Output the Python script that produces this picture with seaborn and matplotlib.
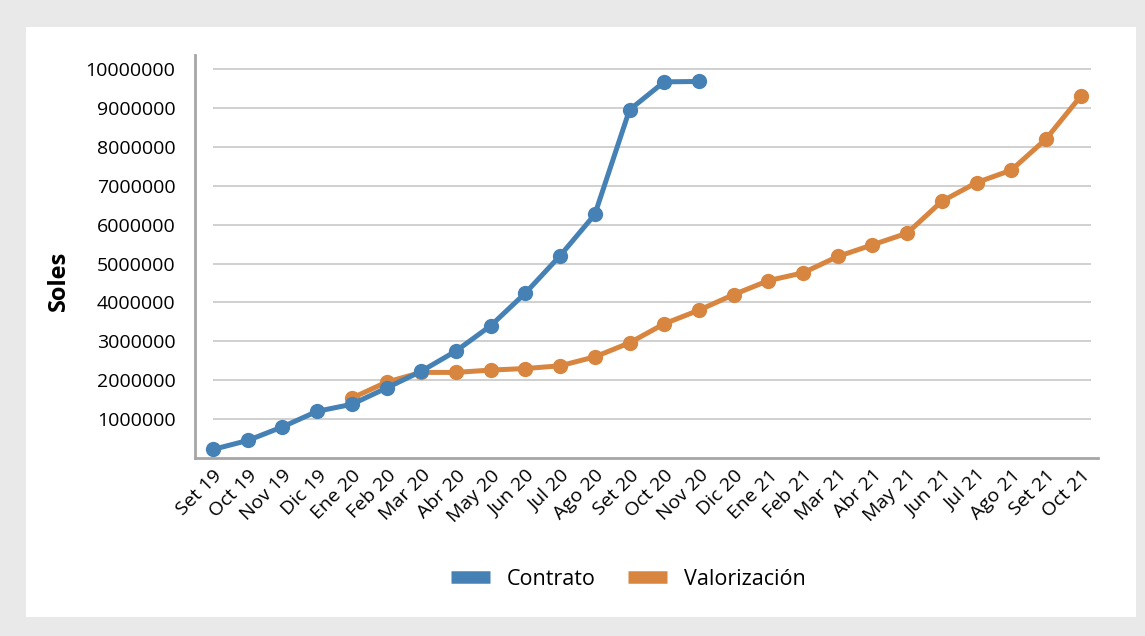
import matplotlib
matplotlib.use("Agg")
import matplotlib.pyplot as plt
from matplotlib.patches import Rectangle
from matplotlib.lines import Line2D
import seaborn as sns
import pandas as pd

# ------------------------------
# Data
# ------------------------------
months = ["Set 19", "Oct 19", "Nov 19", "Dic 19", "Ene 20", "Feb 20", "Mar 20",
          "Abr 20", "May 20", "Jun 20", "Jul 20", "Ago 20", "Set 20", "Oct 20",
          "Nov 20", "Dic 20", "Ene 21", "Feb 21", "Mar 21", "Abr 21", "May 21",
          "Jun 21", "Jul 21", "Ago 21", "Set 21", "Oct 21"]

contrato = [220000, 450000, 800000, 1200000, 1380000, 1800000, 2230000,
            2750000, 3400000, 4240000, 5200000, 6260000, 8950000, 9670000,
            9680000]

valorizacion = [1540000, 1950000, 2200000, 2200000, 2260000, 2300000,
                2370000, 2600000, 2960000, 3450000, 3800000, 4200000,
                4560000, 4760000, 5180000, 5480000, 5780000, 6600000,
                7080000, 7400000, 8200000, 9300000]
valorizacion_start = 4  # starts at "Ene 20"

y_ticks = [1000000, 2000000, 3000000, 4000000, 5000000,
           6000000, 7000000, 8000000, 9000000, 10000000]

blue = "#4581b5"
orange = "#d8853f"

df_c = pd.DataFrame({"x": range(len(contrato)), "y": contrato})
df_v = pd.DataFrame({"x": range(valorizacion_start, valorizacion_start + len(valorizacion)),
                     "y": valorizacion})

# ------------------------------
# Figure
# ------------------------------
sns.set_theme(style="white")
plt.rcParams["font.family"] = ["Open Sans", "DejaVu Sans"]

fig = plt.figure(figsize=(11.45, 6.36), dpi=100, facecolor="#e9e9e9")
fig.patches.append(Rectangle((0.0227, 0.0299), 0.9694, 0.9277, transform=fig.transFigure,
                             facecolor="white", edgecolor="none", zorder=-10))

ax = fig.add_axes([0.1703, 0.2799, 0.7887, 0.6336])
ax.set_facecolor("none")

ax.hlines(y_ticks, 0, 25.3, color="#c8c8c8", linewidth=1.2, zorder=1)

sns.lineplot(data=df_c, x="x", y="y", ax=ax, color=blue, linewidth=3.6,
             marker="o", markersize=11, markeredgewidth=0, zorder=3)
sns.lineplot(data=df_v, x="x", y="y", ax=ax, color=orange, linewidth=3.6,
             marker="o", markersize=11, markeredgewidth=0, zorder=2)

ax.set_xlim(-0.52, 25.5)
ax.set_ylim(0, 10360000)
ax.set_xticks(range(len(months)))
ax.set_xticklabels(months, rotation=45, ha="right", rotation_mode="anchor", fontsize=14)
ax.set_yticks(y_ticks)
ax.set_yticklabels([str(v) for v in y_ticks], fontsize=14)
ax.tick_params(axis="y", length=0, pad=14, colors="black")
ax.tick_params(axis="x", length=0, pad=6, colors="black")

ax.set_xlabel("")
ax.set_ylabel("Soles", fontsize=17, fontweight="bold", color="black")
ax.yaxis.set_label_coords(-0.1377, 0.44)

for side in ["top", "right"]:
    ax.spines[side].set_visible(False)
for side in ["left", "bottom"]:
    ax.spines[side].set_color("#a6a6a6")
    ax.spines[side].set_linewidth(2)

handles = [Line2D([0], [0], color=blue, linewidth=9, solid_capstyle="butt"),
           Line2D([0], [0], color=orange, linewidth=9, solid_capstyle="butt")]
fig.legend(handles, ["Contrato", "Valorización"], loc="center",
           bbox_to_anchor=(0.549, 0.089), ncol=2, frameon=False, fontsize=15.5,
           handlelength=1.8, handletextpad=0.8, columnspacing=1.5,
           labelcolor="black")

fig.savefig("out.png", dpi=100, facecolor=fig.get_facecolor())
